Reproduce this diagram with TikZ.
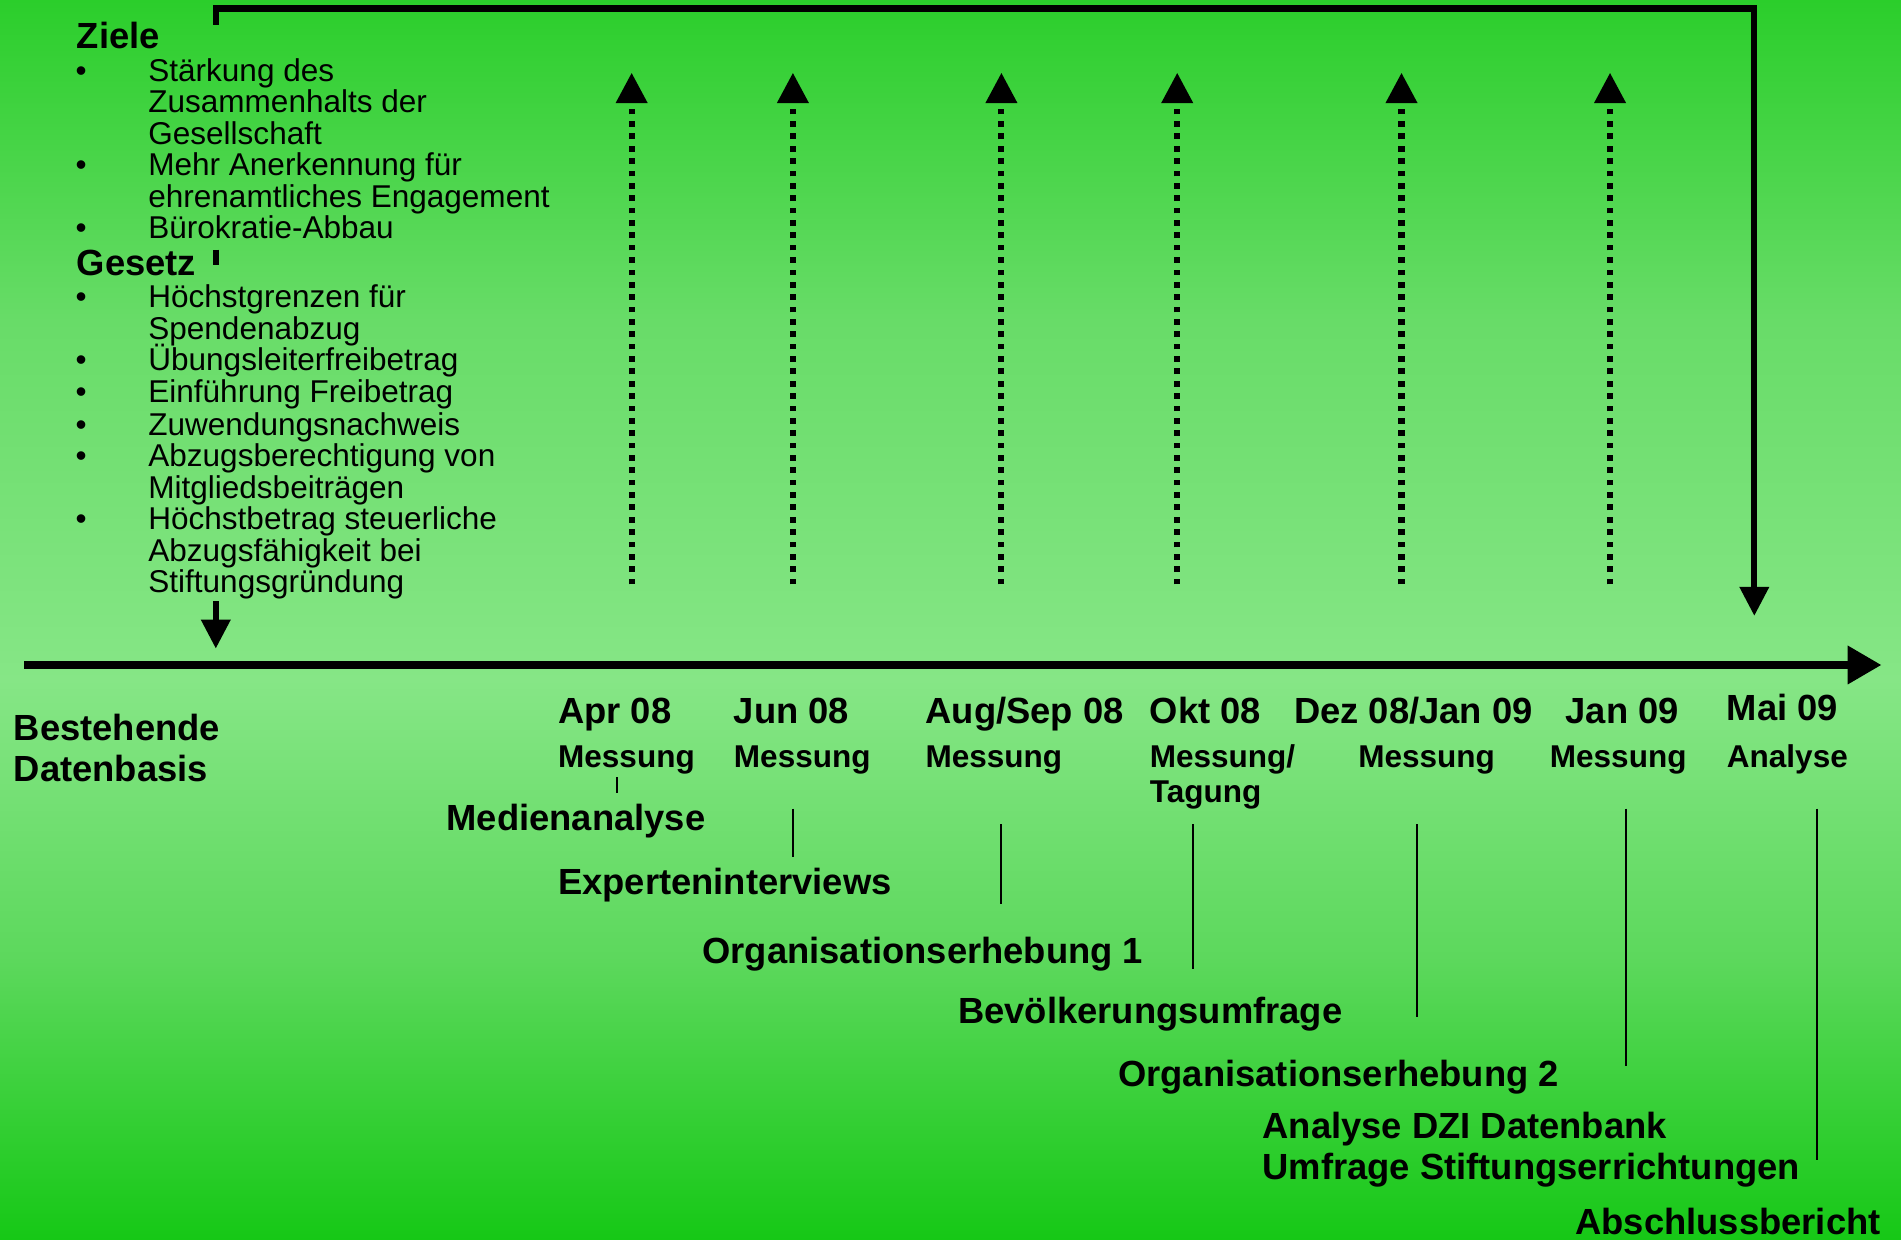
\documentclass[tikz,border=0pt]{standalone}
\usepackage{fontspec}
\setmainfont{Liberation Sans}
\usetikzlibrary{arrows.meta}
\definecolor{bgA}{HTML}{2BCE2B}
\definecolor{bgB}{HTML}{68DC68}
\definecolor{bgC}{HTML}{86E686}
\definecolor{bgD}{HTML}{5CD85C}
\definecolor{bgE}{HTML}{16C816}
\tikzset{
  biglbl/.style={anchor=base west, inner sep=0pt, font=\fontsize{15pt}{15pt}\selectfont\bfseries},
  sublbl/.style={anchor=base west, inner sep=0pt, font=\fontsize{13pt}{13pt}\selectfont\bfseries},
  itm/.style={anchor=base west, inner sep=0pt, font=\fontsize{13pt}{13pt}\selectfont},
  tickline/.style={line width=0.8pt},
  dotarrow/.style={line width=2.5pt, dash pattern=on 2.35pt off 2.75pt, -{Triangle[length=12.5pt,width=12.5pt]}},
  bracket/.style={line width=2.5pt},
  brarrow/.style={line width=2.5pt, -{Triangle[length=12pt,width=11.7pt]}},
  axisline/.style={line width=3.5pt, -{Triangle[length=14pt,width=15pt]}},
}
\begin{document}
\begin{tikzpicture}[x=0.5pt,y=-0.5pt]
\useasboundingbox (0,0) rectangle (1568,1022);
% background gradient
\shade[top color=bgA, bottom color=bgB] (0,0) rectangle (1568,265);
\shade[top color=bgB, bottom color=bgC] (0,264) rectangle (1568,561);
\shade[top color=bgC, bottom color=bgD] (0,560) rectangle (1568,793);
\shade[top color=bgD, bottom color=bgE] (0,792) rectangle (1568,1022);

% left text block
\node[biglbl] (ziele) at (63,40) {Ziele};
\node[biglbl] (gesetz) at (63,227) {Gesetz};
\foreach \y/\t [count=\i] in {67/Stärkung des, 93/Zusammenhalts der, 119/Gesellschaft,
  145/Mehr Anerkennung für, 171/ehrenamtliches Engagement, 197/Bürokratie-Abbau,
  254/Höchstgrenzen für, 280/Spendenabzug, 306/Übungsleiterfreibetrag,
  332/Einführung Freibetrag, 359/Zuwendungsnachweis, 385/Abzugsberechtigung von,
  411/Mitgliedsbeiträgen, 437/Höchstbetrag steuerliche, 463/Abzugsfähigkeit bei,
  489/Stiftungsgründung}
  {\node[itm] (li\i) at (122,\y) {\t};}
\foreach \y [count=\i] in {67,145,197,254,306,332,359,385,437}
  {\node[itm] (bu\i) at (62,\y) {•};}

% bracket from Ziele/Gesetz to Mai 09
\coordinate (blS) at (178,20.6);
\coordinate (bl0) at (178,7);
\coordinate (br0) at (1447,7);
\coordinate (brT) at (1447,508);
\draw[brarrow] (blS) -- (bl0) -- (br0) -- (brT);
\coordinate (gs0) at (178,206);
\coordinate (gs1) at (178,218.6);
\draw[bracket] (gs0) -- (gs1);
\coordinate (la0) at (178,496);
\coordinate (la1) at (178,535);
\draw[brarrow] (la0) -- (la1);

% dotted measurement arrows
\foreach \x [count=\i] in {521,654,826,971,1156,1328}{
  \coordinate (dd\i) at (\x,482);
  \coordinate (du\i) at (\x,60);
  \draw[dotarrow] (dd\i) -- (du\i);
}

% time axis
\coordinate (ax0) at (20,548.5);
\coordinate (ax1) at (1552,548.5);
\draw[axisline] (ax0) -- (ax1);

% axis labels
\node[biglbl] (best1) at (11,611) {Bestehende};
\node[biglbl] (best2) at (11,645) {Datenbasis};

\node[biglbl] (t1) at (460,597) {Apr 08};
\node[sublbl] (m1) at (460,633) {Messung};
\node[biglbl] (t2) at (605,597) {Jun 08};
\node[sublbl] (m2) at (605,633) {Messung};
\node[biglbl] (t3) at (763,597) {Aug/Sep 08};
\node[sublbl] (m3) at (763,633) {Messung};
\node[biglbl] (t4) at (948,597) {Okt 08};
\node[sublbl] (m4) at (948,633) {Messung/};
\node[sublbl] (m4b) at (948,662) {Tagung};
\node[biglbl] (t5) at (1067,597) {Dez 08/Jan 09};
\node[sublbl] (m5) at (1120,633) {Messung};
\node[biglbl] (t6) at (1291,597) {Jan 09};
\node[sublbl] (m6) at (1278,633) {Messung};
\node[biglbl] (t7) at (1424,594) {Mai 09};
\node[sublbl] (m7) at (1424,633) {Analyse};

% activities
\node[biglbl] (a1) at (368,685) {Medienanalyse};
\node[biglbl] (a2) at (460,738) {Experteninterviews};
\node[biglbl] (a3) at (579,795) {Organisationserhebung 1};
\node[biglbl] (a4) at (790,844) {Bevölkerungsumfrage};
\node[biglbl] (a5) at (922,896) {Organisationserhebung 2};
\node[biglbl] (a6) at (1041,939) {Analyse DZI Datenbank};
\node[biglbl] (a6b) at (1041,973) {Umfrage Stiftungserrichtungen};
\node[biglbl] (a7) at (1299,1018) {Abschlussbericht};

% tick lines
\foreach \x/\ya/\yb [count=\i] in {509/641/654, 654/667/707, 826/680/746, 984/680/799,
  1169/680/839, 1341/667/879, 1499/667/957}{
  \coordinate (tk\i a) at (\x,\ya);
  \coordinate (tk\i b) at (\x,\yb);
  \draw[tickline] (tk\i a) -- (tk\i b);
}
\end{tikzpicture}
\end{document}
